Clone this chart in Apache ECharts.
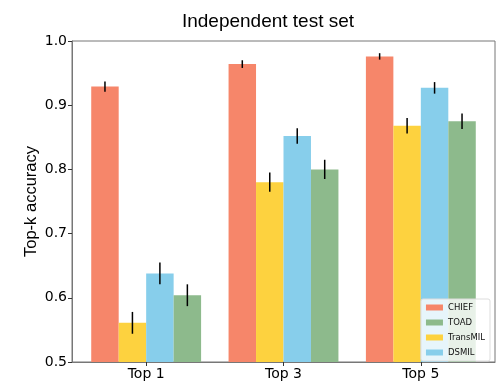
<!DOCTYPE html>
<html><head><meta charset="utf-8">
<script src="https://cdn.jsdelivr.net/npm/echarts@6/dist/echarts.min.js"></script>
<style>html,body{margin:0;padding:0;background:#fff}#c{width:502px;height:384px}</style>
</head><body><div id="c"></div>
<script>
const categories = ['Top 1', 'Top 3', 'Top 5'];
const models = ['CHIEF', 'TransMIL', 'DSMIL', 'TOAD'];
const legendOrder = ['CHIEF', 'TOAD', 'TransMIL', 'DSMIL'];
const chiefVals = [0.929, 0.964, 0.976];
const chiefErr = [0.008, 0.006, 0.005];
const transVals = [0.561, 0.780, 0.868];
const transErr = [0.017, 0.015, 0.012];
const dsmilVals = [0.638, 0.852, 0.927];
const dsmilErr = [0.017, 0.012, 0.009];
const toadVals = [0.604, 0.800, 0.875];
const toadErr = [0.017, 0.015, 0.012];
const yTicks = [0.5, 0.6, 0.7, 0.8, 0.9, 1.0];

const colors = {CHIEF: '#F6866A', TransMIL: '#FDD23F', DSMIL: '#87CEEB', TOAD: '#8DBA8C'};
const valsBy = {CHIEF: chiefVals, TransMIL: transVals, DSMIL: dsmilVals, TOAD: toadVals};
const errBy = {CHIEF: chiefErr, TransMIL: transErr, DSMIL: dsmilErr, TOAD: toadErr};
const barW = 0.2;
const yMin = 0.5;
const font = 'Liberation Sans, Arial, sans-serif';
const tickFont = 'DejaVu Sans, sans-serif';

const series = models.map((m, mi) => {
  const offset = (mi - 1.5) * barW;
  return {
    name: m, type: 'custom',
    itemStyle: {color: colors[m]},
    encode: {x: 0, y: 1},
    data: categories.map((c, i) => [i, valsBy[m][i], errBy[m][i]]),
    renderItem: function (params, api) {
      const i = api.value(0), v = api.value(1), e = api.value(2);
      const tl = api.coord([i + offset - barW / 2, v]);
      const br = api.coord([i + offset + barW / 2, yMin]);
      const et = api.coord([i + offset, v + e]);
      const eb = api.coord([i + offset, v - e]);
      return {
        type: 'group',
        children: [
          {type: 'rect', shape: {x: tl[0], y: tl[1], width: br[0] - tl[0], height: br[1] - tl[1]},
           style: {fill: api.visual('color')}},
          {type: 'line', shape: {x1: et[0], y1: et[1], x2: eb[0], y2: eb[1]},
           style: {stroke: '#000', lineWidth: 1.5}, z2: 10}
        ]
      };
    }
  };
});

const chart = echarts.init(document.getElementById('c'), null, {renderer: 'canvas'});
chart.setOption({
  animation: false,
  backgroundColor: '#fff',
  title: {text: 'Independent test set', left: 263, top: 7, textAlign: 'center',
    textStyle: {fontFamily: font, fontSize: 19, fontWeight: 'normal', color: '#000'}},
  grid: {left: 72, right: 7, top: 41, bottom: 22, show: true, borderColor: '#777', borderWidth: 1, backgroundColor: 'transparent'},
  xAxis: {
    type: 'value', min: -0.54, max: 2.54,
    axisLine: {show: true, onZero: false, lineStyle: {color: '#777'}},
    splitLine: {show: false},
    axisTick: {show: true, customValues: [0, 1, 2], length: 4, lineStyle: {color: '#333'}},
    axisLabel: {customValues: [0, 1, 2], formatter: v => categories[Math.round(v)], fontFamily: tickFont, fontSize: 14, color: '#000', margin: 5}
  },
  yAxis: {
    type: 'value', min: yTicks[0], max: yTicks[yTicks.length - 1], interval: 0.1,
    name: 'Top-k accuracy', nameLocation: 'middle', nameGap: 32, nameRotate: 90, nameMoveOverlap: false,
    nameTextStyle: {fontFamily: font, fontSize: 16.5, color: '#000'},
    axisLine: {show: true, onZero: false, lineStyle: {color: '#777'}},
    splitLine: {show: false},
    axisTick: {show: true, length: 4, lineStyle: {color: '#333'}},
    axisLabel: {formatter: v => v.toFixed(1), fontFamily: tickFont, fontSize: 14, color: '#000', margin: 5}
  },
  legend: {
    data: legendOrder.map(n => ({name: n, icon: 'rect'})),
    orient: 'vertical', right: 12, bottom: 23,
    itemWidth: 17, itemHeight: 6, itemGap: 6,
    padding: [4, 5, 4, 5],
    backgroundColor: 'rgba(255,255,255,0.8)', borderColor: '#ddd', borderWidth: 1, borderRadius: 2,
    textStyle: {fontFamily: tickFont, fontSize: 8.5, color: '#111', padding: [0, 0, 0, 0]}
  },
  series: series
});
</script></body></html>
